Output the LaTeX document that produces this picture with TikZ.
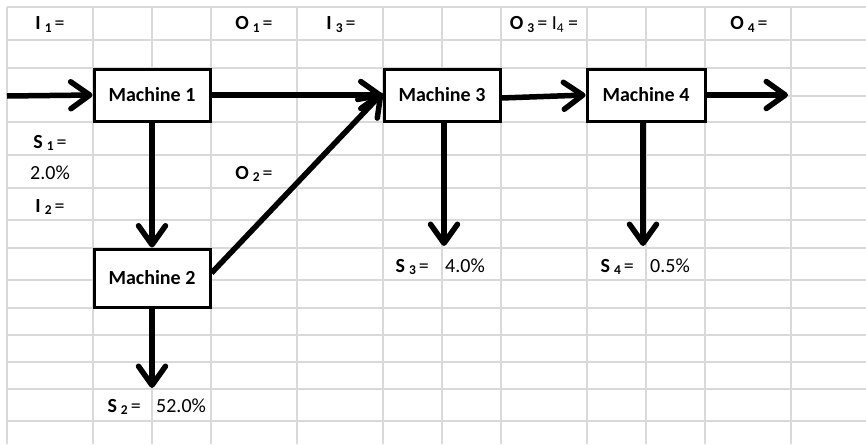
\documentclass[tikz,border=0pt]{standalone}
\usepackage{fontspec}
\setmainfont{Carlito}
\usetikzlibrary{arrows.meta}
\newcommand{\sbs}[1]{\raisebox{-0.3ex}{\fontsize{13.5}{13.5}\selectfont #1}}
\begin{document}
\begin{tikzpicture}[x=1pt,y=-1pt,
  gridline/.style={draw=black!15,line width=1.8pt},
  lbl/.style={font=\fontsize{20}{23}\selectfont,inner sep=0pt},
  mbox/.style={draw,line width=3pt,fill=white,inner sep=0pt,minimum width=116pt,minimum height=52pt,font=\fontsize{20}{23}\selectfont\bfseries},
  flow/.style={line width=5.5pt,-{Straight Barb[length=19pt,width=27pt,round]}}]
\useasboundingbox (0,0) rectangle (866,444);
\fill[white] (0,0) rectangle (866,444);
% grid
\foreach \gx in {7,93,152,211,297,383,442,501,587,646,705,791}
  \draw[gridline] (\gx,7) -- (\gx,444);
\foreach \gy in {7,40,68,96,122,155,188,220,248,280,308,335,362,389,421}
  \draw[gridline] (7,\gy) -- (866,\gy);
% boxes
\node[mbox] (m1) at (152,95) {Machine 1};
\node[mbox,minimum height=58pt] (m2) at (152,278) {Machine 2};
\node[mbox] (m3) at (442,95) {Machine 3};
\node[mbox,minimum width=118pt] (m4) at (646,95) {Machine 4};
% free ends
\coordinate (in1) at (7,96);
\coordinate (out4) at (788,95);
\coordinate (s2) at (152,388);
\coordinate (s3) at (444,246);
\coordinate (s4) at (643,246);
% arrows
\draw[flow] (in1) -- (m1.west);
\draw[flow] (m1.east) -- (m3.west);
\draw[flow] ([yshift=-3pt]m3.east) -- (m4.west);
\draw[flow] (m4.east) -- (out4);
\draw[flow] (m1.south) -- (m2.north);
\draw[flow] ([yshift=5pt]m2.east) -- ([yshift=2pt]m3.west);
\draw[flow] (m2.south) -- (s2);
\draw[flow] (m3.south -| s3) -- (s3);
\draw[flow] (m4.south -| s4) -- (s4);
% labels
\node[lbl,anchor=base] (li1) at (50,30) {\textbf{I\hspace{4pt}\sbs{1}}\hspace{3pt}=};
\node[lbl,anchor=base] (lo1) at (254,30) {\textbf{O\hspace{4pt}\sbs{1}}\hspace{3pt}=};
\node[lbl,anchor=base] (li3) at (341,30) {\textbf{I\hspace{4pt}\sbs{3}}\hspace{3pt}=};
\node[lbl,anchor=base] (lo3) at (544,30) {\textbf{O\hspace{4pt}\sbs{3}}\hspace{3pt}= I\sbs{4} =};
\node[lbl,anchor=base] (lo4) at (749,30) {\textbf{O\hspace{4pt}\sbs{4}}\hspace{3pt}=};
\node[lbl,anchor=base] (ls1) at (50,148) {\textbf{S\hspace{4pt}\sbs{1}}\hspace{3pt}=};
\node[lbl,anchor=base] (lp1) at (50,179) {2.0\%};
\node[lbl,anchor=base] (li2) at (50,212) {\textbf{I\hspace{4pt}\sbs{2}}\hspace{3pt}=};
\node[lbl,anchor=base] (lo2) at (254,179) {\textbf{O\hspace{4pt}\sbs{2}}\hspace{3pt}=};
\node[lbl,anchor=base east] (ls2) at (141,412) {\textbf{S\hspace{4pt}\sbs{2}}\hspace{3pt}=};
\node[lbl,anchor=base west] (lp2) at (156,412) {52.0\%};
\node[lbl,anchor=base east] (ls3) at (429,272) {\textbf{S\hspace{4pt}\sbs{3}}\hspace{3pt}=};
\node[lbl,anchor=base west] (lp3) at (445,272) {4.0\%};
\node[lbl,anchor=base east] (ls4) at (634,272) {\textbf{S\hspace{4pt}\sbs{4}}\hspace{3pt}=};
\node[lbl,anchor=base west] (lp4) at (650,272) {0.5\%};
\end{tikzpicture}
\end{document}
